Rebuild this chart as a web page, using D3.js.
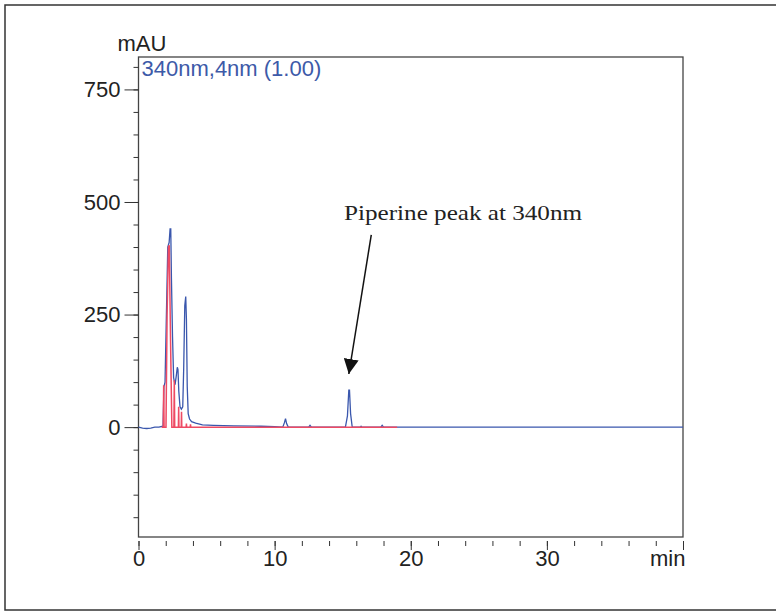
<!DOCTYPE html>
<html>
<head>
<meta charset="utf-8">
<script src="https://cdn.jsdelivr.net/npm/d3@7"></script>
<style>
  body { margin: 0; background: #fff; }
  svg { display: block; }
  .axis text { font-family: "Liberation Sans", Arial, sans-serif; font-size: 22px; fill: #222; }
  .axis line { stroke: #333; }
  .axis path { display: none; }
</style>
</head>
<body>
<svg id="chart" width="776" height="614"></svg>
<script>
// 340nm trace (time in min, signal in mAU)
var blueTime = [0, 0.3, 0.6, 0.9, 1.2, 1.5, 1.8, 1.87, 1.95, 2.05, 2.15, 2.25, 2.32, 2.37, 2.42, 2.5, 2.58, 2.64, 2.7, 2.78, 2.85, 2.9, 2.96, 3.05, 3.15, 3.25, 3.32, 3.4, 3.47, 3.52, 3.58, 3.65, 3.75, 3.9, 4.2, 4.7, 5.5, 7, 9, 10, 10.6, 10.72, 10.8, 10.88, 11, 12.5, 12.6, 12.7, 15.2, 15.35, 15.45, 15.5, 15.58, 15.7, 16.3, 16.35, 16.4, 17.8, 17.9, 18, 40];
var blueValue = [0, -2, -3, -2, 0, 0, 2, 90, 100, 250, 400, 410, 440, 440, 330, 200, 110, 100, 97, 115, 133, 128, 80, 45, 40, 45, 130, 270, 290, 240, 90, 30, 18, 12, 9, 5, 4, 3, 2, 1, 0, 10, 19, 8, 0, 0, 4, 0, 0, 25, 82, 82, 30, 0, 0, 2, 0, 0, 4, 0, 0];

// second trace drawn in red
var redTime = [1.7, 1.82, 1.85, 1.88, 2.02, 2.1, 2.2, 2.26, 2.35, 2.45, 2.6, 2.63, 2.66, 2.93, 2.95, 2.97, 3.14, 3.16, 3.18, 3.5, 3.52, 3.54, 3.8, 3.82, 3.84, 19];
var redValue = [0, 0, 93, 0, 0, 250, 400, 404, 200, 0, 0, 104, 0, 0, 45, 0, 0, 34, 0, 0, 8, 0, 0, 6, 0, 0];

var xMajor = [0, 10, 20, 30, 40];
var xLabels = ["0", "10", "20", "30", "min"];
var yMajor = [0, 250, 500, 750];
var yDomain = [-244, 822];
var xDomain = [0, 40];

var svg = d3.select("#chart");

var plot = {left: 138.5, right: 683, top: 57, bottom: 537};

var x = d3.scaleLinear().domain(xDomain).range([plot.left, plot.right]);
var y = d3.scaleLinear().domain(yDomain).range([plot.bottom, plot.top]);

// outer frame
svg.append("rect")
  .attr("x", 5).attr("y", 5)
  .attr("width", 772).attr("height", 605)
  .attr("fill", "none")
  .attr("stroke", "#333")
  .attr("stroke-width", 1.5);

// plot box
svg.append("rect")
  .attr("x", plot.left).attr("y", plot.top)
  .attr("width", plot.right - plot.left).attr("height", plot.bottom - plot.top)
  .attr("fill", "none")
  .attr("stroke", "#444")
  .attr("stroke-width", 1.3);

// x axis: minor ticks every 2 min, major every 10
svg.append("g")
  .attr("class", "axis")
  .attr("transform", "translate(0," + (plot.bottom + 4) + ")")
  .call(d3.axisBottom(x).tickValues(d3.range(0, 41, 2)).tickSize(5).tickFormat(""));

svg.append("g")
  .attr("class", "axis")
  .attr("transform", "translate(0," + (plot.bottom + 4) + ")")
  .call(d3.axisBottom(x).tickValues(xMajor).tickSize(9).tickPadding(0)
    .tickFormat(function(d, i) { return xLabels[i]; }))
  .selectAll("text")
  .attr("text-anchor", function(d, i) { return i == xMajor.length - 1 ? "end" : "middle"; })
  .attr("dx", function(d, i) { return i == xMajor.length - 1 ? 2 : 0; });

// y axis
svg.append("g")
  .attr("class", "axis")
  .attr("transform", "translate(" + plot.left + ",0)")
  .call(d3.axisLeft(y).tickValues(d3.range(-200, 801, 50)).tickSize(5).tickFormat(""));

svg.append("g")
  .attr("class", "axis")
  .attr("transform", "translate(" + plot.left + ",0)")
  .call(d3.axisLeft(y).tickValues(yMajor).tickSize(14).tickPadding(4));

svg.append("text")
  .attr("x", plot.left - 21)
  .attr("y", plot.top - 6)
  .style("font", "22px 'Liberation Sans', Arial, sans-serif")
  .attr("fill", "#222")
  .text("mAU");

svg.append("text")
  .attr("x", plot.left + 3)
  .attr("y", plot.top + 19)
  .style("font", "22px 'Liberation Sans', Arial, sans-serif")
  .attr("fill", "#3d5aa8")
  .text("340nm,4nm (1.00)");

var line = d3.line()
  .x(function(d) { return x(d[0]); })
  .y(function(d) { return y(d[1]); });

var blue = d3.zip(blueTime, blueValue);
var red = d3.zip(redTime, redValue);

svg.append("path")
  .attr("d", line(blue))
  .attr("fill", "none")
  .attr("stroke", "#3a57ad")
  .attr("stroke-width", 1.3);

svg.append("path")
  .attr("d", line(red))
  .attr("fill", "none")
  .attr("stroke", "#ee4a63")
  .attr("stroke-width", 1.5);

// annotation
svg.append("defs").append("marker")
  .attr("id", "arrow")
  .attr("viewBox", "0 0 10 10")
  .attr("refX", 10).attr("refY", 5)
  .attr("markerWidth", 15).attr("markerHeight", 15)
  .attr("markerUnits", "userSpaceOnUse")
  .attr("orient", "auto")
  .append("path")
  .attr("d", "M0,0 L10,5 L0,10 z")
  .attr("fill", "#111");

svg.append("line")
  .attr("x1", x(17.1)).attr("y1", y(427))
  .attr("x2", x(15.45)).attr("y2", y(118))
  .attr("stroke", "#111")
  .attr("stroke-width", 1.5)
  .attr("marker-end", "url(#arrow)");

svg.append("text")
  .attr("x", x(15.1))
  .attr("y", y(460))
  .attr("textLength", 238)
  .attr("lengthAdjust", "spacingAndGlyphs")
  .style("font", "22px 'Liberation Serif', 'Times New Roman', serif")
  .attr("fill", "#222")
  .text("Piperine peak at 340nm");
</script>
</body>
</html>
